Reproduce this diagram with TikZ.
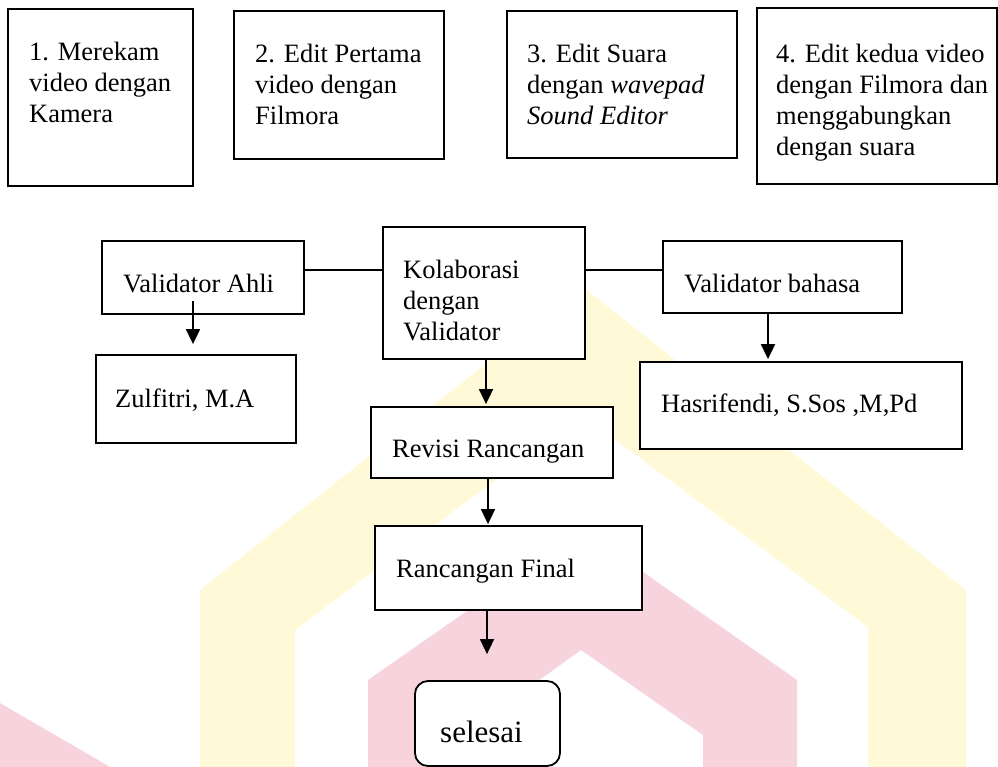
\documentclass[tikz,border=0pt]{standalone}
\usepackage{fontspec}
\setmainfont{Liberation Serif}
\usetikzlibrary{arrows.meta}

\definecolor{logokuning}{HTML}{FFF9D8}
\definecolor{logomerah}{HTML}{F7D3DD}

\begin{document}
\begin{tikzpicture}[x=1pt, y=-1pt,
		kotak/.style={draw, fill=white, line width=1.8pt, inner sep=0pt},
		teks/.style={anchor=base west, inner sep=0pt, align=left, font=\fontsize{26.5}{31}\selectfont},
		panah/.style={-{Triangle[width=14pt, length=15pt]}, line width=1.8pt},
		garis/.style={line width=1.8pt}]
	\useasboundingbox (0,0) rectangle (998,767);
	
	% Logo (latar)
	\fill[logokuning] (200,767) -- (200,590) -- (583,287) -- (966,590) -- (966,767) -- (868,767) -- (868,627) -- (582,415) -- (295,630) -- (295,767) -- cycle;
	\fill[logomerah] (368,767) -- (368,680) -- (583,530) -- (797,680) -- (797,767) -- (703,767) -- (703,735) -- (581,650) -- (463,735) -- (463,767) -- cycle;
	\fill[logomerah] (0,703) -- (110,767) -- (0,767) -- cycle;
	
	% Langkah 1 - 4 (teks diletakkan pada baris terakhir)
	\node[kotak, minimum width=185pt, minimum height=177pt] (rekam) at (100.5,97.5) {};
	\node[teks] (trekam) at (29,123) {1. Merekam\\video dengan\\Kamera};
	
	\node[kotak, minimum width=210pt, minimum height=148pt] (editsatu) at (339,85) {};
	\node[teks] (teditsatu) at (255,125) {2. Edit Pertama\\video dengan\\Filmora};
	
	\node[kotak, minimum width=230pt, minimum height=147pt] (suara) at (622,84.5) {};
	\node[teks] (tsuara) at (527,125) {3. Edit Suara\\dengan \textit{wavepad}\\\textit{Sound Editor}};
	
	\node[kotak, minimum width=240pt, minimum height=176pt] (editdua) at (877,96) {};
	\node[teks] (teditdua) at (776,156) {4. Edit kedua video\\dengan Filmora dan\\menggabungkan\\dengan suara};
	
	% Validasi
	\node[kotak, minimum width=202pt, minimum height=73pt] (ahli) at (203,277.5) {};
	\node[teks] (tahli) at (123,292) {Validator Ahli};
	
	\node[kotak, minimum width=202pt, minimum height=132pt] (kolab) at (484,293) {};
	\node[teks] (tkolab) at (403,340) {Kolaborasi\\dengan\\Validator};
	
	\node[kotak, minimum width=239pt, minimum height=72pt] (bahasa) at (782.5,277) {};
	\node[teks] (tbahasa) at (684,292) {Validator bahasa};
	
	\node[kotak, minimum width=200pt, minimum height=88pt] (zulfitri) at (196,399) {};
	\node[teks] (tzulfitri) at (115,407) {Zulfitri, M.A};
	
	\node[kotak, minimum width=322pt, minimum height=87pt] (hasri) at (801,405.5) {};
	\node[teks] (thasri) at (661,412) {Hasrifendi, S.Sos ,M,Pd};
	
	% Revisi sampai selesai
	\node[kotak, minimum width=242pt, minimum height=71pt] (revisi) at (492,442.5) {};
	\node[teks] (trevisi) at (392,457) {Revisi Rancangan};
	
	\node[kotak, minimum width=267pt, minimum height=84pt] (final) at (508.5,568) {};
	\node[teks] (tfinal) at (396,577) {Rancangan Final};
	
	\node[kotak, rounded corners=13pt, minimum width=145pt, minimum height=85pt] (selesai) at (487.5,723.5) {};
	\node[teks, font=\fontsize{31}{36}\selectfont] (tselesai) at (440,742) {selesai};
	
	% Garis penghubung
	\draw[garis] ([yshift=7.5pt]ahli.east) -- ([yshift=7.5pt]ahli.east -| kolab.west);
	\draw[garis] ([yshift=7pt]bahasa.west -| kolab.east) -- ([yshift=7pt]bahasa.west);
	
	% Panah
	\draw[panah] ([xshift=-10pt, yshift=14pt]ahli.south) -- ([xshift=-10pt, yshift=10pt]ahli.south |- zulfitri.north);
	\draw[panah] ([xshift=-14.5pt]bahasa.south) -- ([xshift=-14.5pt, yshift=2pt]bahasa.south |- hasri.north);
	\draw[panah] ([xshift=2pt]kolab.south) -- ([xshift=2pt, yshift=2pt]kolab.south |- revisi.north);
	\draw[panah] ([xshift=-4pt]revisi.south) -- ([xshift=-4pt, yshift=1pt]revisi.south |- final.north);
	\draw[panah] ([xshift=-21.5pt]final.south) -- ([xshift=-21.5pt, yshift=26pt]final.south |- selesai.north);
\end{tikzpicture}
\end{document}
